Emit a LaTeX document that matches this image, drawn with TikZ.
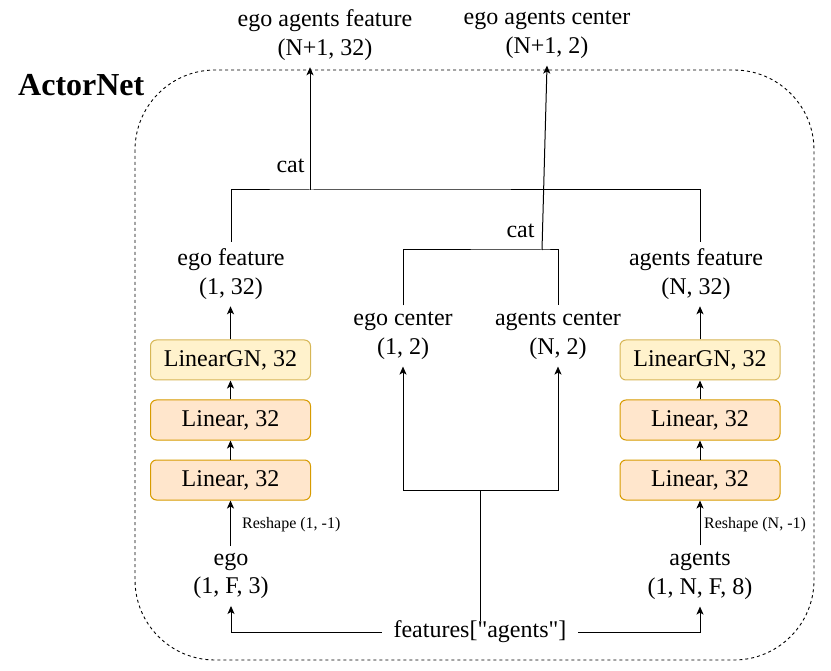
\documentclass[tikz,border=0pt]{standalone}
\usepackage{fontspec}
\setmainfont{Liberation Serif}[Ligatures=TeXOff]
\usetikzlibrary{arrows.meta}
\definecolor{gnfill}{HTML}{FFF2CC}
\definecolor{gnline}{HTML}{D6B656}
\definecolor{linfill}{HTML}{FFE6CC}
\definecolor{linline}{HTML}{D79B00}
\begin{document}
\begin{tikzpicture}[x=1pt,y=-1pt,
  lbl/.style={font=\fontsize{24}{28.5}\selectfont, align=center, inner sep=0pt, outer ysep=7pt},
  plain/.style={font=\fontsize{24}{28.5}\selectfont, inner sep=0pt},
  small/.style={font=\fontsize{16}{19}\selectfont, inner sep=0pt},
  layerbox/.style={draw, rounded corners=6pt, minimum width=160pt, minimum height=40pt, line width=1pt, font=\fontsize{24}{28}\selectfont, inner sep=0pt},
  gn/.style={layerbox, fill=gnfill, draw=gnline},
  lin/.style={layerbox, fill=linfill, draw=linline},
  conn/.style={line width=1pt},
  arr/.style={conn, -{Stealth[length=8pt,width=7pt,inset=2pt]}},
]
\useasboundingbox (0,0) rectangle (831,671);
\draw[black, line width=0.9pt, dash pattern=on 3pt off 3pt, rounded corners=80pt] (135,70) rectangle (814,660);
\node[font=\bfseries\fontsize{32}{36}\selectfont, anchor=base west, inner sep=0pt] (title) at (18,96) {ActorNet};

\node[lbl] (eaf) at (325,35) {ego agents feature\\(N+1, 32)};
\node[lbl] (eac) at (547,35) {ego agents center\\(N+1, 2)};
\node[lbl] (egof) at (231,274) {ego feature\\(1, 32)};
\node[lbl] (agf) at (696,274) {agents feature\\(N, 32)};
\node[lbl] (egoc) at (403,336) {ego center\\(1, 2)};
\node[lbl] (agc) at (558,336) {agents center\\(N, 2)};

\node[gn] (gnL) at (230.5,360) {LinearGN, 32};
\node[lin] (l2L) at (230.5,420) {Linear, 32};
\node[lin] (l1L) at (230.5,480) {Linear, 32};
\node[gn] (gnR) at (700,360) {LinearGN, 32};
\node[lin] (l2R) at (700,420) {Linear, 32};
\node[lin] (l1R) at (700,480) {Linear, 32};

\node[lbl] (ego) at (231,576) {ego\\(1, F, 3)};
\node[lbl] (agents) at (700,576) {agents\\(1, N, F, 8)};
\node[plain, outer xsep=12pt] (feat) at (480,632) {features["agents"]};

\node[small, anchor=west] (rsL) at (242,525) {Reshape (1, -1)};
\node[small, anchor=west] (rsR) at (704,525) {Reshape (N, -1)};

\node[plain] (cat1) at (290.5,166) {cat};
\node[plain] (cat2) at (520.5,231) {cat};

% top concatenation
\coordinate (j1) at (310,190);
\draw[conn] (egof.north) |- (j1) -| (gnR.north |- agf.north);
\draw[arr] (j1) -- (eaf.south -| j1);

% center concatenation
\coordinate (j2) at (542,250);
\draw[conn] (egoc.north) |- (j2) -| (agc.north);
\draw[arr] (j2) -- (eac.south);

% left stack
\draw[arr] (gnL.north) -- (gnL.north |- egof.south);
\draw[arr] (l2L.north) -- (gnL.south);
\draw[arr] (l1L.north) -- (l2L.south);
\draw[arr] (l1L.south |- ego.north) -- (l1L.south);

% right stack
\draw[arr] (gnR.north) -- (gnR.north |- agf.south);
\draw[arr] (l2R.north) -- (gnR.south);
\draw[arr] (l1R.north) -- (l2R.south);
\draw[arr] (l1R.south |- agents.north) -- (l1R.south);

% inputs
\draw[arr] (feat.west) -| (ego.south);
\draw[arr] (feat.east) -| (agents.south);
\coordinate (j3) at (480,490);
\draw[conn] (feat.north) -- (j3);
\draw[arr] (j3) -| (egoc.south);
\draw[arr] (j3) -| (agc.south);
\end{tikzpicture}
\end{document}
